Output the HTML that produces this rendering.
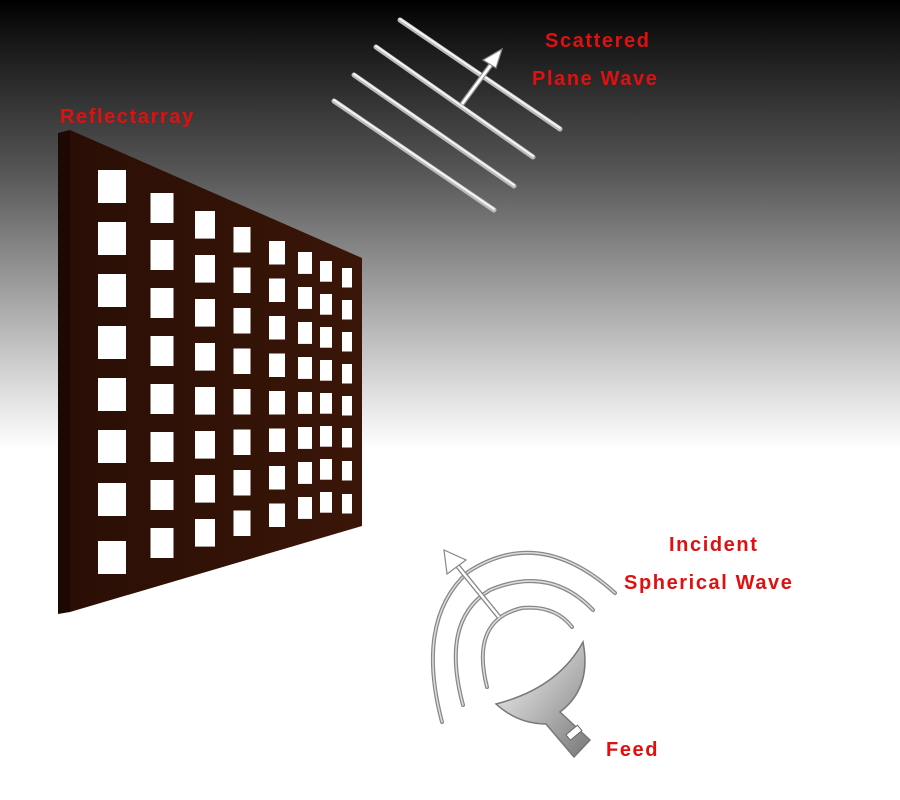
<!DOCTYPE html>
<html><head><meta charset="utf-8"><style>
html,body{margin:0;padding:0}
body{width:900px;height:800px;overflow:hidden;background:linear-gradient(#000 0px,#111 30px,#555 170px,#999 280px,#ddd 390px,#fff 450px,#fff 800px)}
svg{position:absolute;left:0;top:0}
text{font-family:"Liberation Sans",sans-serif;font-weight:bold;font-size:20px;fill:#e01010;letter-spacing:1.6px}
</style></head><body>
<svg width="900" height="800" viewBox="0 0 900 800">
<defs>
<linearGradient id="metal" x1="0" y1="0" x2="1" y2="1"><stop offset="0" stop-color="#f8f8f8"/><stop offset="0.5" stop-color="#bbb"/><stop offset="1" stop-color="#777"/></linearGradient>
<linearGradient id="board" x1="0" y1="0" x2="1" y2="0"><stop offset="0" stop-color="#2a0e05"/><stop offset="1" stop-color="#3a1608"/></linearGradient>
</defs>
<text x="60" y="123">Reflectarray</text>
<text x="545" y="47">Scattered</text>
<text x="532" y="85">Plane Wave</text>
<text x="669" y="551">Incident</text>
<text x="624" y="589">Spherical Wave</text>
<text x="606" y="756">Feed</text>
<polygon points="58,133 70,130 70,612 58,614" fill="#1e0803"/>
<polygon points="70,130 362,258 362,526 70,612" fill="url(#board)"/>
<g fill="#fff">
<rect x="98" y="170" width="28" height="33"/><rect x="98" y="222" width="28" height="33"/><rect x="98" y="274" width="28" height="33"/><rect x="98" y="326" width="28" height="33"/><rect x="98" y="378" width="28" height="33"/><rect x="98" y="430" width="28" height="33"/><rect x="98" y="483" width="28" height="33"/><rect x="98" y="541" width="28" height="33"/>
<rect x="150.5" y="193" width="23" height="30"/><rect x="150.5" y="240" width="23" height="30"/><rect x="150.5" y="288" width="23" height="30"/><rect x="150.5" y="336" width="23" height="30"/><rect x="150.5" y="384" width="23" height="30"/><rect x="150.5" y="432" width="23" height="30"/><rect x="150.5" y="480" width="23" height="30"/><rect x="150.5" y="528" width="23" height="30"/>
<rect x="195" y="211" width="20" height="27.6"/><rect x="195" y="255" width="20" height="27.6"/><rect x="195" y="299" width="20" height="27.6"/><rect x="195" y="343" width="20" height="27.6"/><rect x="195" y="387" width="20" height="27.6"/><rect x="195" y="431" width="20" height="27.6"/><rect x="195" y="475" width="20" height="27.6"/><rect x="195" y="519" width="20" height="27.6"/>
<rect x="233.5" y="227" width="17" height="25.5"/><rect x="233.5" y="267.5" width="17" height="25.5"/><rect x="233.5" y="308" width="17" height="25.5"/><rect x="233.5" y="348.5" width="17" height="25.5"/><rect x="233.5" y="389" width="17" height="25.5"/><rect x="233.5" y="429.5" width="17" height="25.5"/><rect x="233.5" y="470" width="17" height="25.5"/><rect x="233.5" y="510.5" width="17" height="25.5"/>
<rect x="269" y="241" width="16" height="23.5"/><rect x="269" y="278.5" width="16" height="23.5"/><rect x="269" y="316" width="16" height="23.5"/><rect x="269" y="353.5" width="16" height="23.5"/><rect x="269" y="391" width="16" height="23.5"/><rect x="269" y="428.5" width="16" height="23.5"/><rect x="269" y="466" width="16" height="23.5"/><rect x="269" y="503.5" width="16" height="23.5"/>
<rect x="298" y="252" width="14" height="21.9"/><rect x="298" y="287" width="14" height="21.9"/><rect x="298" y="322" width="14" height="21.9"/><rect x="298" y="357" width="14" height="21.9"/><rect x="298" y="392" width="14" height="21.9"/><rect x="298" y="427" width="14" height="21.9"/><rect x="298" y="462" width="14" height="21.9"/><rect x="298" y="497" width="14" height="21.9"/>
<rect x="320" y="261" width="12" height="20.7"/><rect x="320" y="294" width="12" height="20.7"/><rect x="320" y="327" width="12" height="20.7"/><rect x="320" y="360" width="12" height="20.7"/><rect x="320" y="393" width="12" height="20.7"/><rect x="320" y="426" width="12" height="20.7"/><rect x="320" y="459" width="12" height="20.7"/><rect x="320" y="492" width="12" height="20.7"/>
<rect x="342" y="268" width="10" height="19.5"/><rect x="342" y="300" width="10" height="19.5"/><rect x="342" y="332" width="10" height="19.5"/><rect x="342" y="364" width="10" height="19.5"/><rect x="342" y="396" width="10" height="19.5"/><rect x="342" y="428" width="10" height="19.5"/><rect x="342" y="461" width="10" height="19.5"/><rect x="342" y="494" width="10" height="19.5"/>
</g>
<g stroke="#bbb" stroke-width="5" stroke-linecap="round">
<line x1="400" y1="20" x2="560" y2="129"/>
<line x1="376" y1="47" x2="533" y2="157"/>
<line x1="354" y1="75" x2="514" y2="186"/>
<line x1="334" y1="101" x2="494" y2="210"/>
</g>
<g stroke="#f4f4f4" stroke-width="2" stroke-linecap="round">
<line x1="400" y1="19" x2="560" y2="128"/>
<line x1="376" y1="46" x2="533" y2="156"/>
<line x1="354" y1="74" x2="514" y2="185"/>
<line x1="334" y1="100" x2="494" y2="209"/>
</g>
<line x1="462" y1="104" x2="493" y2="62" stroke="#999" stroke-width="5"/>
<line x1="462" y1="104" x2="493" y2="62" stroke="#fff" stroke-width="2.5"/>
<polygon points="502,49 483,60 496,68" fill="#fff" stroke="#888" stroke-width="1.2"/>
<g fill="none" stroke="#888" stroke-width="4" stroke-linecap="round">
<path d="M487,687 Q470,620 522,608 Q555,605 572,627"/>
<path d="M463,705 Q440,620 490,590 Q550,565 593,610"/>
<path d="M442,722 Q415,620 468,572 Q540,525 615,593"/>
</g>
<g fill="none" stroke="#ddd" stroke-width="1.5" stroke-linecap="round">
<path d="M487,687 Q470,620 522,608 Q555,605 572,627"/>
<path d="M463,705 Q440,620 490,590 Q550,565 593,610"/>
<path d="M442,722 Q415,620 468,572 Q540,525 615,593"/>
</g>
<line x1="499" y1="617" x2="456" y2="564" stroke="#888" stroke-width="5"/>
<line x1="499" y1="617" x2="456" y2="564" stroke="#fff" stroke-width="2.5"/>
<polygon points="444,550 447,574 466,560" fill="#fff" stroke="#888" stroke-width="1.2"/>
<path d="M496,704 Q558,688 583,642 Q592,688 560,712 L590,740 L574,757 L546,724 Q518,724 496,704 Z" fill="url(#metal)" stroke="#777" stroke-width="1.5"/>
<rect x="566" y="729" width="15" height="7" transform="rotate(-40 574 732)" fill="#fff" stroke="#666"/>
</svg>
</body></html>
